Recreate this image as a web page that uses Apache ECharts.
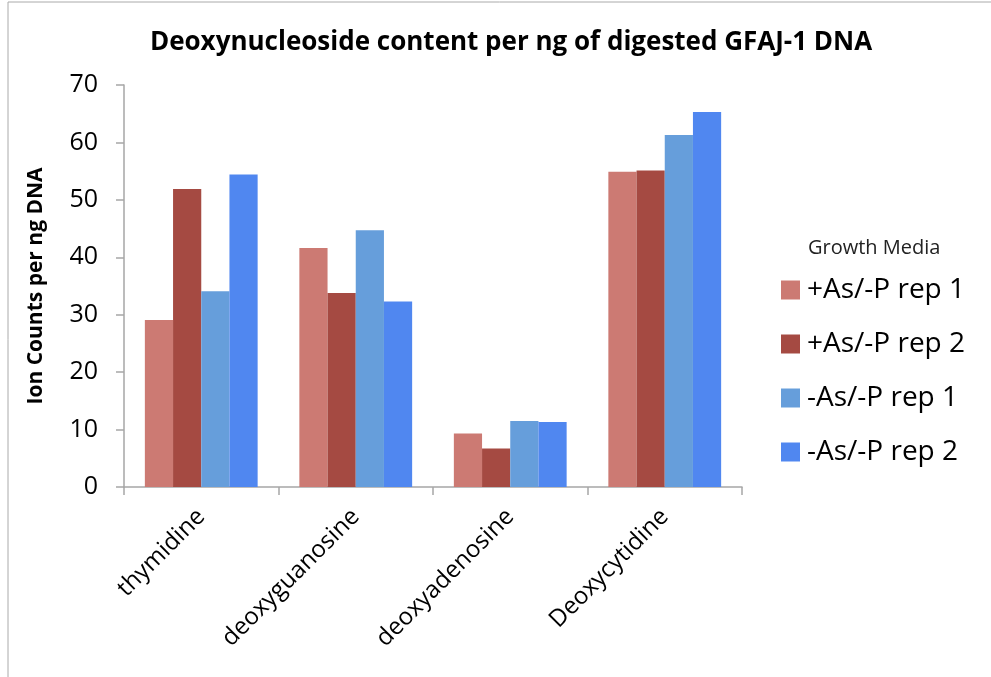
<!DOCTYPE html>
<html><head><meta charset="utf-8">
<script src="https://cdn.jsdelivr.net/npm/echarts@6/dist/echarts.min.js"></script>
<style>html,body{margin:0;padding:0;background:#fff}#c{width:991px;height:677px}</style>
</head><body><div id="c"></div>
<script>
var categories = ['thymidine', 'deoxyguanosine', 'deoxyadenosine', 'Deoxycytidine'];
var seriesNames = ['+As/-P rep 1', '+As/-P rep 2', '-As/-P rep 1', '-As/-P rep 2'];
var asRep1 = [29.1, 41.6, 9.3, 54.9];
var asRep2 = [51.9, 33.8, 6.7, 55.1];
var noAsRep1 = [34.1, 44.7, 11.5, 61.3];
var noAsRep2 = [54.4, 32.3, 11.3, 65.3];
var colors = ['#CC7A73', '#A54A42', '#669EDB', '#5087F0'];
var values = [asRep1, asRep2, noAsRep1, noAsRep2];

var font = 'Open Sans';
var chart = echarts.init(document.getElementById('c'));
chart.setOption({
  backgroundColor: '#fff',
  animation: false,
  title: {
    text: 'Deoxynucleoside content per ng of digested GFAJ-1 DNA',
    left: 506, top: 25, textAlign: 'center',
    textStyle: {fontFamily: font, fontWeight: 'bold', fontSize: 26, color: '#000'}
  },
  legend: {
    orient: 'vertical', left: 776, top: 271,
    itemWidth: 19, itemHeight: 19, itemGap: 26,
    icon: 'rect',
    data: seriesNames,
    textStyle: {fontFamily: font, fontSize: 28, lineHeight: 28, color: '#000', padding: [0, 0, 0, 2]}
  },
  graphic: [
    {type: 'text', left: 808, top: 238, style: {text: 'Growth Media', font: '20px "Open Sans"', fill: '#222'}},
    {type: 'line', shape: {x1: 8, y1: 2, x2: 991, y2: 2}, style: {stroke: '#AAAAAA', lineWidth: 1}},
    {type: 'line', shape: {x1: 8, y1: 2, x2: 8, y2: 677}, style: {stroke: '#AAAAAA', lineWidth: 1}}
  ],
  grid: {left: 124, right: 249, top: 85, bottom: 190, containLabel: false},
  xAxis: {
    type: 'category', data: categories,
    axisLine: {lineStyle: {color: '#A6A6A6', width: 1.5}},
    axisTick: {show: true, length: 8, lineStyle: {color: '#A6A6A6', width: 1.5}},
    axisLabel: {rotate: 45, margin: 26, fontFamily: font, fontSize: 24, color: '#000', interval: 0}
  },
  yAxis: {
    type: 'value', min: 0, max: 70, interval: 10,
    name: 'Ion Counts per ng DNA', nameLocation: 'middle', nameGap: 77,
    nameTextStyle: {fontFamily: font, fontWeight: 'bold', fontSize: 21, color: '#000'},
    axisLine: {show: true, lineStyle: {color: '#A6A6A6', width: 1.5}},
    axisTick: {show: true, length: 8, lineStyle: {color: '#A6A6A6', width: 1.5}},
    splitLine: {show: false},
    axisLabel: {margin: 26, fontFamily: font, fontSize: 25, color: '#000'}
  },
  series: seriesNames.map(function (n, i) {
    return {
      name: n, type: 'bar', data: values[i],
      barGap: '0%', barCategoryGap: '27%',
      itemStyle: {color: colors[i]}
    };
  })
});
</script></body></html>
